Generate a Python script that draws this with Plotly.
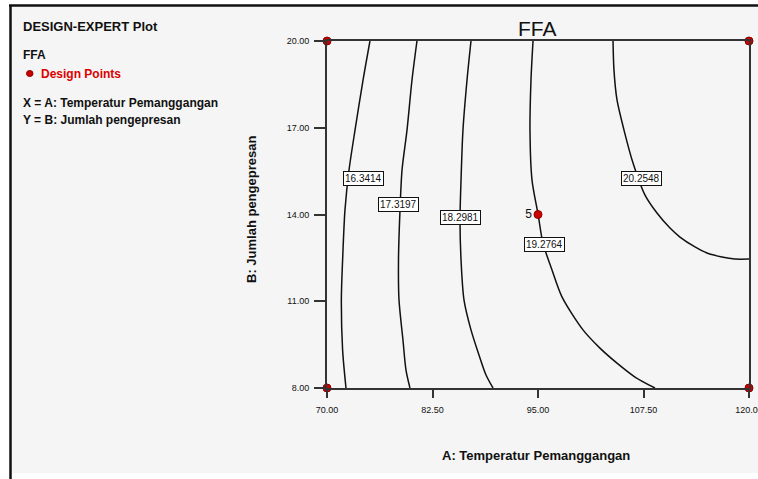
import plotly.graph_objects as go

# ---- data ----
x_ticks = [70, 82.5, 95, 107.5, 120]
x_ticktext = ["70.00", "82.50", "95.00", "107.50", "120.00"]
y_ticks = [8, 11, 14, 17, 20]
y_ticktext = ["8.00", "11.00", "14.00", "17.00", "20.00"]

levels = ["16.3414", "17.3197", "18.2981", "19.2764", "20.2548"]

c1_x = [75.09, 74.27, 73.32, 72.61, 72.13, 71.85, 71.70, 71.85, 72.25]
c1_y = [20.00, 18.65, 16.92, 15.54, 14.16, 12.43, 11.05, 9.31, 8.00]

c2_x = [80.66, 80.07, 79.48, 78.89, 78.65, 78.47, 78.53, 79.00, 79.36, 79.83]
c2_y = [20.00, 18.65, 16.92, 15.54, 14.16, 12.43, 11.05, 9.66, 8.62, 8.00]

c3_x = [87.06, 86.59, 86.11, 85.88, 85.76, 85.88, 86.23, 87.06, 88.01, 88.84, 89.67]
c3_y = [20.00, 18.65, 16.92, 15.19, 13.81, 12.43, 11.05, 10.01, 9.14, 8.45, 8.00]

c4_x = [94.41, 94.17, 94.05, 94.29, 95.00, 95.59, 96.66, 97.84, 100.33, 102.34, 104.36, 106.49, 108.86]
c4_y = [20.00, 18.65, 16.92, 15.19, 14.02, 13.01, 12.08, 11.15, 10.01, 9.38, 8.86, 8.38, 8.00]

c5_x = [103.89, 104.00, 104.36, 105.19, 106.26, 107.68, 109.10, 110.64, 111.82, 113.60, 115.02, 116.80, 118.34, 120.00]
c5_y = [20.00, 19.00, 17.96, 16.92, 15.78, 14.67, 14.05, 13.53, 13.22, 12.88, 12.67, 12.53, 12.46, 12.46]

label_x = [74.35, 78.45, 85.76, 95.73, 107.26]
label_y = [15.25, 14.34, 13.88, 12.97, 15.25]

design_x = [70, 120, 70, 120, 95]
design_y = [20, 20, 8, 8, 14]
design_text = ["", "", "", "", "5"]

FONT = "Liberation Sans, Arial, sans-serif"

fig = go.Figure()

for cx, cy in [(c1_x, c1_y), (c2_x, c2_y), (c3_x, c3_y), (c4_x, c4_y), (c5_x, c5_y)]:
    fig.add_trace(go.Scatter(x=cx, y=cy, mode="lines",
                             line=dict(color="#111111", width=1.5, shape="spline", smoothing=0.8),
                             hoverinfo="skip", showlegend=False))

fig.add_trace(go.Scatter(x=design_x, y=design_y, mode="markers+text",
                         text=design_text, textposition="middle left",
                         textfont=dict(family=FONT, size=12, color="#111111"),
                         marker=dict(color="#cc0000", size=8, line=dict(color="#880000", width=1)),
                         cliponaxis=False, showlegend=False))

annotations = []
for lx, ly, lt in zip(label_x, label_y, levels):
    annotations.append(dict(x=lx, y=ly, xref="x", yref="y", text=lt, showarrow=False,
                            font=dict(family=FONT, size=10, color="#111111"),
                            bgcolor="white", bordercolor="#111111", borderwidth=1, borderpad=1))

def px2x(px):
    return (px - 327) / 422.0

def py2y(py):
    return (388 - py) / 347.0

# titles and left texts
annotations += [
    dict(x=px2x(537), y=py2y(28), xref="paper", yref="paper", text="FFA", showarrow=False,
         font=dict(family=FONT, size=21, color="#111111"), xanchor="center", yanchor="middle"),
    dict(x=px2x(536), y=py2y(456), xref="paper", yref="paper", text="<b>A: Temperatur Pemanggangan</b>",
         showarrow=False, font=dict(family=FONT, size=13, color="#111111"), xanchor="center", yanchor="middle"),
    dict(x=px2x(251), y=py2y(210), xref="paper", yref="paper", text="<b>B: Jumlah pengepresan</b>",
         showarrow=False, textangle=-90, font=dict(family=FONT, size=13, color="#111111"),
         xanchor="center", yanchor="middle"),
    dict(x=px2x(21), y=py2y(27), xref="paper", yref="paper", text="<b>DESIGN-EXPERT Plot</b>",
         showarrow=False, font=dict(family=FONT, size=13, color="#111111"), xanchor="left", yanchor="middle"),
    dict(x=px2x(21), y=py2y(55), xref="paper", yref="paper", text="<b>FFA</b>",
         showarrow=False, font=dict(family=FONT, size=12, color="#111111"), xanchor="left", yanchor="middle"),
    dict(x=px2x(39), y=py2y(73.5), xref="paper", yref="paper", text="<b>Design Points</b>",
         showarrow=False, font=dict(family=FONT, size=12, color="#dd0000"), xanchor="left", yanchor="middle"),
    dict(x=px2x(21), y=py2y(103), xref="paper", yref="paper", text="<b>X = A: Temperatur Pemanggangan</b>",
         showarrow=False, font=dict(family=FONT, size=12, color="#111111"), xanchor="left", yanchor="middle"),
    dict(x=px2x(21), y=py2y(120), xref="paper", yref="paper", text="<b>Y = B: Jumlah pengepresan</b>",
         showarrow=False, font=dict(family=FONT, size=12, color="#111111"), xanchor="left", yanchor="middle"),
]

shapes = [
    # light panel inside frame
    dict(type="rect", xref="paper", yref="paper", x0=px2x(11), x1=px2x(760), y0=py2y(473), y1=py2y(6),
         fillcolor="#f5f5f5", line=dict(width=0), layer="below"),
    # frame lines (left and top)
    dict(type="line", xref="paper", yref="paper", x0=px2x(10.5), x1=px2x(10.5), y0=py2y(480), y1=py2y(5),
         line=dict(color="#111111", width=2.5)),
    dict(type="line", xref="paper", yref="paper", x0=px2x(9), x1=px2x(760), y0=py2y(5.5), y1=py2y(5.5),
         line=dict(color="#111111", width=2.5)),
    # legend marker
    dict(type="circle", xref="paper", yref="paper", x0=px2x(26.5), x1=px2x(33), y0=py2y(76.5), y1=py2y(70.5),
         fillcolor="#cc0000", line=dict(color="#880000", width=1)),
]

fig.update_layout(
    width=758, height=479,
    margin=dict(l=327, r=9, t=41, b=91),
    paper_bgcolor="white", plot_bgcolor="#f5f5f5",
    font=dict(family=FONT, color="#111111"),
    showlegend=False,
    annotations=annotations,
    shapes=shapes,
)

fig.update_xaxes(range=[70, 120], tickvals=x_ticks, ticktext=x_ticktext,
                 showgrid=False, zeroline=False, showline=True, mirror=True,
                 linecolor="#333333", linewidth=2, ticks="outside", ticklen=8, tickwidth=1.5,
                 tickcolor="#333333", ticklabelstandoff=4, ticklabeloverflow="allow",
                 automargin=False,
                 tickfont=dict(family=FONT, size=9, color="#111111"))
fig.update_yaxes(range=[8, 20], tickvals=y_ticks, ticktext=y_ticktext,
                 showgrid=False, zeroline=False, showline=True, mirror=True,
                 linecolor="#333333", linewidth=2, ticks="outside", ticklen=11, tickwidth=1.5,
                 tickcolor="#333333", ticklabelstandoff=3, automargin=False,
                 tickfont=dict(family=FONT, size=9, color="#111111"))

fig.write_html("out.html", config={"displayModeBar": False},
               post_script="document.body.style.margin='0';document.body.style.overflow='hidden';")
